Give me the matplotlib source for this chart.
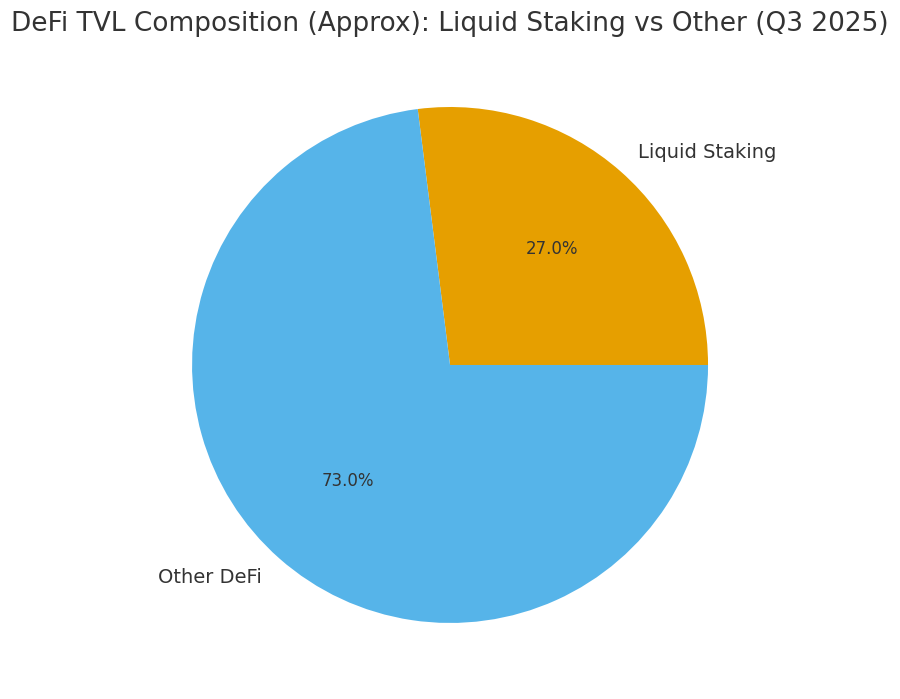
import matplotlib
matplotlib.use('Agg')
import matplotlib.pyplot as plt

# composition data
labels = ['Liquid Staking', 'Other DeFi']
shares = [27.0, 73.0]
colors = ['#E69F00', '#56B4E9']

plt.rcParams['text.color'] = '#333333'

fig = plt.figure(figsize=(9, 6.99), dpi=100)
ax = fig.add_axes([0.1417, 0.0165, 0.7167, 0.9227])
wedges, texts, autotexts = ax.pie(shares, labels=labels, colors=colors,
                                  autopct='%1.1f%%', startangle=0,
                                  textprops={'fontsize': 14})
for t in autotexts:
    t.set_fontsize(12)
ax.set_xlim(-1.25, 1.25)
ax.set_ylim(-1.25, 1.25)
ax.set_aspect('equal')
fig.suptitle('DeFi TVL Composition (Approx): Liquid Staking vs Other (Q3 2025)', fontsize=19, y=0.984, va='top')
plt.savefig('out.png')
